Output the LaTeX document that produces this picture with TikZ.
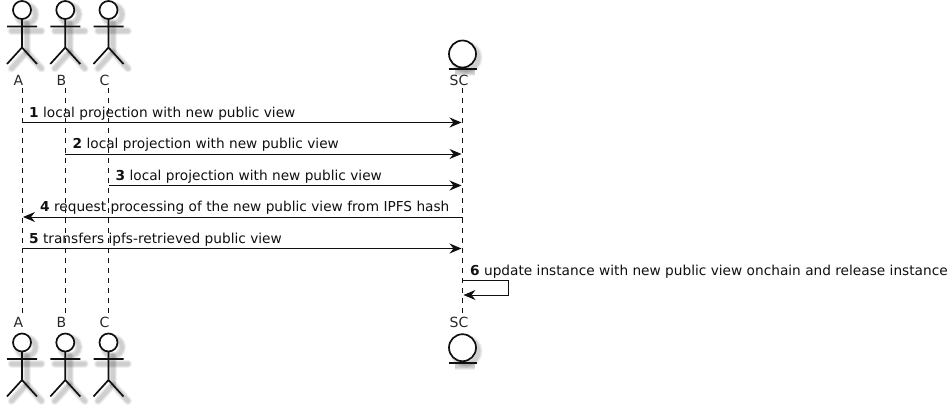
\documentclass[tikz,border=0pt]{standalone}
\usepackage{fontspec}
\setmainfont{DejaVu Sans}
\usetikzlibrary{arrows.meta}
\definecolor{ink}{HTML}{101010}
\tikzset{
  x=1pt,y=-1pt,
  figline/.style={draw=ink,line width=1.7pt},
  lifeline/.style={draw=ink,line width=0.9pt,dash pattern=on 5pt off 5pt},
  msg/.style={draw=ink,line width=0.9pt,-{Stealth[length=12pt,width=10pt,inset=4pt]}},
  msgtext/.style={anchor=base west,inner sep=0pt,font=\fontsize{13.7}{15}\selectfont,text=ink},
  parttext/.style={anchor=base,inner sep=0pt,font=\fontsize{14}{16}\selectfont,text=ink!90!white},
  blurA/.style={draw=black,opacity=0.06,line width=8pt},
  blurB/.style={draw=black,opacity=0.07,line width=6pt},
  blurC/.style={draw=black,opacity=0.07,line width=4pt},
  actorpic/.pic={
    \foreach \st in {blurA,blurB,blurC}{
      \begin{scope}[shift={(4.5,4.5)},line cap=round]
        \path[\st] (0,-20) circle[radius=9];
        \path[\st] (0,-11) -- (0,17.5);
        \path[\st] (-15,-3.5) -- (15,-3.5);
        \path[\st] (0,17.5) -- (-15,34) (0,17.5) -- (15,34);
      \end{scope}}
    \path[figline,fill=white] (0,-20) circle[radius=9];
    \path[figline] (0,-11) -- (0,17.5) (-15,-3.5) -- (15,-3.5)
      (-15,34) -- (0,17.5) -- (15,34);
  },
  entitypic/.pic={
    \foreach \st in {blurA,blurB,blurC}{
      \path[\st] (3.5,3.5) circle[radius=12.5];
      \path[\st] (-8,18) -- (12,18);}
    \path[figline,fill=white] (0,0) circle[radius=13.5];
    \path[figline] (-14,15.3) -- (14,15.3);
  }
}
\begin{document}
\begin{tikzpicture}
\useasboundingbox (0,0) rectangle (952,405);
% lifelines
\coordinate (At) at (22,88);    \coordinate (Ab) at (22,313);
\coordinate (Bt) at (65.3,88);  \coordinate (Bb) at (65.3,313);
\coordinate (Ct) at (108.5,88); \coordinate (Cb) at (108.5,313);
\coordinate (St) at (462.5,88); \coordinate (Sb) at (462.5,313);
\draw[lifeline] (At) -- (Ab);
\draw[lifeline] (Bt) -- (Bb);
\draw[lifeline] (Ct) -- (Cb);
\draw[lifeline] (St) -- (Sb);
% figures
\pic at (22,30) {actorpic};
\pic at (65.3,30) {actorpic};
\pic at (108.5,30) {actorpic};
\pic at (22,362.5) {actorpic};
\pic at (65.3,362.5) {actorpic};
\pic at (108.5,362.5) {actorpic};
\pic at (462.5,54) {entitypic};
\pic at (462.5,347.7) {entitypic};
% participant labels
\node[parttext] (lA) at (18.5,85) {A};
\node[parttext] (lB) at (61.5,85) {B};
\node[parttext] (lC) at (104.5,85) {C};
\node[parttext] (lS) at (459,85) {SC};
\node[parttext] (lA2) at (18.5,327) {A};
\node[parttext] (lB2) at (61.5,327) {B};
\node[parttext] (lC2) at (104.5,327) {C};
\node[parttext] (lS2) at (459,327) {SC};
% messages
\coordinate (A1) at (22,122.5);  \coordinate (S1) at (461.5,122.5);
\coordinate (B2) at (65.3,154);  \coordinate (S2) at (461.5,154);
\coordinate (C3) at (108.5,185.5); \coordinate (S3) at (461.5,185.5);
\coordinate (S4) at (462.5,217); \coordinate (A4) at (23,217);
\coordinate (A5) at (22,248.5);  \coordinate (S5) at (461.5,248.5);
\coordinate (S6a) at (462.5,280.5); \coordinate (S6b) at (463.5,295);
\draw[msg] (A1) -- (S1);
\draw[msg] (B2) -- (S2);
\draw[msg] (C3) -- (S3);
\draw[msg] (S4) -- (A4);
\draw[msg] (A5) -- (S5);
\draw[msg] (S6a) -| (508,295) -- (S6b);
% message labels
\node[msgtext] (m1) at (29,117) {\textbf{1} local projection with new public view};
\node[msgtext] (m2) at (72.5,148) {\textbf{2} local projection with new public view};
\node[msgtext] (m3) at (115.5,180) {\textbf{3} local projection with new public view};
\node[msgtext] (m4) at (40,211) {\textbf{4} request processing of the new public view from IPFS hash};
\node[msgtext] (m5) at (29,243) {\textbf{5} transfers ipfs-retrieved public view};
\node[msgtext] (m6) at (470,275) {\textbf{6} update instance with new public view onchain and release instance};
\end{tikzpicture}
\end{document}
